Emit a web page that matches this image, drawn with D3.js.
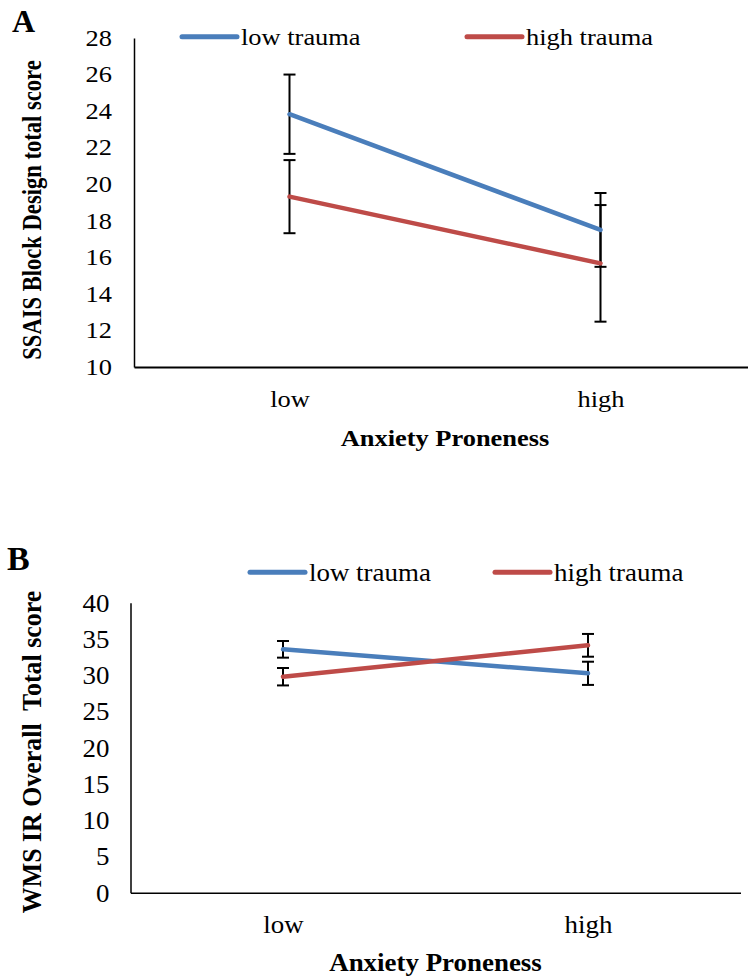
<!DOCTYPE html>
<html lang="en">
  <head>
    <meta http-equiv="Content-Type" content="text/html; charset=utf-8"/>
    <style>
body { margin: 0; background: #fff; }
text {
  font-family: "Liberation Serif", "Times New Roman", serif;
  fill: #000;
}
.bold { font-weight: bold; }
    </style>
  </head>
  <body>
    <svg id="chart" width="748" height="978"></svg>
    <script src="https://d3js.org/d3.v7.min.js"></script>
    <script>

// data
var categories = ['low', 'high'];
var seriesNames = ['low trauma', 'high trauma'];
var colors = ['#4A7EBB', '#BE4B48'];

// panel A: SSAIS Block Design
var blockLow = [23.83, 17.5];
var blockLowErr = [2.17, 2.02];
var blockHigh = [19.32, 15.67];
var blockHighErr = [2.0, 3.19];
var blockTicks = [10, 12, 14, 16, 18, 20, 22, 24, 26, 28];

// panel B: WMS IR overall
var wmsLow = [33.57, 30.26];
var wmsLowErr = [1.15, 1.6];
var wmsHigh = [29.79, 34.12];
var wmsHighErr = [1.2, 1.57];
var wmsTicks = [0, 5, 10, 15, 20, 25, 30, 35, 40];

var svg = d3.select('#chart');

function drawPanel(p) {
  var g = svg.append('g');
  var fs = p.fontSize, sx = p.sx;

  var x = d3.scalePoint().domain(categories).range([p.left, p.right]).padding(0.5);
  var y = d3.scaleLinear().domain(p.domain).range([p.bottom, p.top]);

  // y axis
  var ya = g.append('g')
    .attr('transform', 'translate(' + p.left + ',0)')
    .call(d3.axisLeft(y).tickValues(p.ticks).tickSize(0).tickSizeOuter(0).tickPadding(0));
  ya.select('.domain').attr('stroke', '#000').attr('stroke-width', 1.5);
  ya.selectAll('text')
    .attr('x', -p.yPad / sx)
    .attr('transform', 'scale(' + sx + ',1)')
    .style('font-size', fs + 'px');
  ya.attr('font-family', null).attr('font-size', null);

  // x axis
  var xa = g.append('g')
    .attr('transform', 'translate(0,' + p.bottom + ')')
    .call(d3.axisBottom(x).tickSize(0).tickSizeOuter(0).tickPadding(p.xPad));
  xa.select('.domain').attr('stroke', '#000').attr('stroke-width', p.xw);
  xa.selectAll('text')
    .attr('transform', 'scale(' + sx + ',1)')
    .style('font-size', fs + 'px');
  xa.attr('font-family', null).attr('font-size', null);

  // error bars
  var series = [
    { vals: p.s1, err: p.e1, color: colors[0] },
    { vals: p.s2, err: p.e2, color: colors[1] }
  ];
  var cap = 6;
  series.forEach(function(s) {
    var pts = categories.map(function(c, i) { return { c: c, v: s.vals[i], e: s.err[i] }; });
    var eb = g.append('g').attr('stroke', '#000').attr('stroke-width', 2);
    eb.selectAll('line.v').data(pts).enter().append('line')
      .attr('x1', function(d) { return x(d.c); })
      .attr('x2', function(d) { return x(d.c); })
      .attr('y1', function(d) { return y(d.v - d.e); })
      .attr('y2', function(d) { return y(d.v + d.e); });
    eb.selectAll('line.t').data(pts).enter().append('line')
      .attr('x1', function(d) { return x(d.c) - cap; })
      .attr('x2', function(d) { return x(d.c) + cap; })
      .attr('y1', function(d) { return y(d.v + d.e); })
      .attr('y2', function(d) { return y(d.v + d.e); });
    eb.selectAll('line.b').data(pts).enter().append('line')
      .attr('x1', function(d) { return x(d.c) - cap; })
      .attr('x2', function(d) { return x(d.c) + cap; })
      .attr('y1', function(d) { return y(d.v - d.e); })
      .attr('y2', function(d) { return y(d.v - d.e); });
  });

  // series lines
  var line = d3.line()
    .x(function(d, i) { return x(categories[i]); })
    .y(function(d) { return y(d); });
  series.forEach(function(s) {
    g.append('path')
      .attr('d', line(s.vals))
      .attr('fill', 'none')
      .attr('stroke', s.color)
      .attr('stroke-width', 4.5)
      .attr('stroke-linecap', 'round');
  });

  // legend
  p.legend.forEach(function(l, i) {
    g.append('line')
      .attr('x1', l.x).attr('x2', l.x + 55)
      .attr('y1', p.legendY).attr('y2', p.legendY)
      .attr('stroke', colors[i]).attr('stroke-width', 5)
      .attr('stroke-linecap', 'round');
    g.append('text')
      .attr('transform', 'translate(' + (l.x + 59) + ',' + p.legendBase + ') scale(' + sx + ',1)')
      .style('font-size', fs + 'px')
      .text(seriesNames[i]);
  });

  // titles
  g.append('text').attr('class', 'bold')
    .attr('transform', 'translate(' + ((p.left + p.right) / 2) + ',' + p.titleBase + ') scale(' + sx + ',1)')
    .attr('text-anchor', 'middle')
    .style('font-size', fs + 'px')
    .text('Anxiety Proneness');

  g.append('text').attr('class', 'bold')
    .attr('transform', 'translate(' + p.yTitleX + ',' + p.yTitleY + ') scale(' + sx + ',1) rotate(-90)')
    .attr('text-anchor', 'middle')
    .style('font-size', fs + 'px')
    .style('white-space', 'pre')
    .text(p.yTitle);

  // panel letter
  g.append('text').attr('class', 'bold')
    .attr('x', p.letterX).attr('y', p.letterY)
    .style('font-size', p.letterSize + 'px')
    .text(p.letter);
}

drawPanel({
  letter: 'A', letterX: 12, letterY: 32, letterSize: 32,
  left: 134, right: 756, top: 38, bottom: 367,
  domain: [10, 28], ticks: blockTicks,
  s1: blockLow, e1: blockLowErr, s2: blockHigh, e2: blockHighErr,
  fontSize: 22.6, sx: 1.17, yPad: 22, xPad: 24, xw: 2,
  legend: [{ x: 182 }, { x: 467 }], legendY: 36.7, legendBase: 45,
  titleBase: 446,
  yTitle: 'SSAIS Block Design total score', yTitleX: 41, yTitleY: 210
});

drawPanel({
  letter: 'B', letterX: 7, letterY: 570, letterSize: 34,
  left: 130.5, right: 740.5, top: 602.7, bottom: 892.7,
  domain: [0, 40], ticks: wmsTicks,
  s1: wmsLow, e1: wmsLowErr, s2: wmsHigh, e2: wmsHighErr,
  fontSize: 25.9, sx: 1.04, yPad: 21, xPad: 21.6, xw: 1.5,
  legend: [{ x: 250 }, { x: 495 }], legendY: 572.3, legendBase: 581,
  titleBase: 971,
  yTitle: 'WMS IR Overall  Total score', yTitleX: 41, yTitleY: 752
});

    </script>
  </body>
</html>
